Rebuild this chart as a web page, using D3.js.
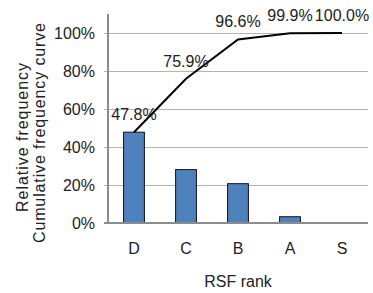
<!DOCTYPE html>
<html>
<head>
<meta charset="utf-8">
<script src="https://cdn.jsdelivr.net/npm/d3@7"></script>
<style>
  body { margin: 0; background: #fff; }
  text { font-family: "Liberation Sans", Arial, sans-serif; fill: #222; }
</style>
</head>
<body>
<div class="chart"></div>
<script>
var ranks      = ["D", "C", "B", "A", "S"];
var relFreq    = [0.478, 0.281, 0.207, 0.033, 0.001];
var cumFreq    = [0.478, 0.759, 0.966, 0.999, 1.000];
var cumLabels  = ["47.8%", "75.9%", "96.6%", "99.9%", "100.0%"];
var yTicks     = [0, 0.2, 0.4, 0.6, 0.8, 1.0];
var yTitles    = ["Relative frequency", "Cumulative frequency curve"];

var width = 373, height = 293;
var plotL = 108, plotR = 368, plotT = 14, plotB = 223;

var svg = d3.select(".chart").append("svg")
    .attr("width", width)
    .attr("height", height);

var x = d3.scaleBand().domain(ranks).range([plotL, plotR]).paddingInner(0.6).paddingOuter(0.3);
var y = d3.scaleLinear().domain([0, 1.1]).range([plotB, plotT]);

// gridlines + y ticks
var yAxis = d3.axisLeft(y)
    .tickValues(yTicks)
    .tickSize(-(plotR - plotL))
    .tickPadding(13)
    .tickFormat(d3.format(".0%"));
var gy = svg.append("g").attr("transform", "translate(" + plotL + ",0)").call(yAxis);
gy.select(".domain").remove();
gy.selectAll(".tick line").attr("stroke", "#b4b4b4").attr("x1", -4);
gy.selectAll(".tick text").style("font-size", "16px").attr("fill", "#222");

// y axis line
svg.append("line")
    .attr("x1", plotL).attr("x2", plotL)
    .attr("y1", plotT).attr("y2", plotB)
    .attr("stroke", "#8c8c8c").attr("stroke-width", 2);

// bars
svg.selectAll(".bar")
    .data(relFreq)
    .enter().append("rect")
    .attr("class", "bar")
    .attr("x", function (d, i) { return x(ranks[i]); })
    .attr("y", function (d) { return y(d); })
    .attr("width", x.bandwidth())
    .attr("height", function (d) { return y(0) - y(d); })
    .attr("fill", "#4f81bd")
    .attr("stroke", "#111")
    .attr("stroke-width", 1);

// x axis line
svg.append("line")
    .attr("x1", plotL - 4).attr("x2", plotR)
    .attr("y1", plotB).attr("y2", plotB)
    .attr("stroke", "#8c8c8c").attr("stroke-width", 2);

// x tick labels
svg.selectAll(".xlab")
    .data(ranks)
    .enter().append("text")
    .attr("x", function (d) { return x(d) + x.bandwidth() / 2; })
    .attr("y", 254)
    .attr("text-anchor", "middle")
    .style("font-size", "16px")
    .text(function (d) { return d; });

// cumulative line
var line = d3.line()
    .x(function (d, i) { return x(ranks[i]) + x.bandwidth() / 2; })
    .y(function (d) { return y(d); });
svg.append("path")
    .datum(cumFreq)
    .attr("d", line)
    .attr("fill", "none")
    .attr("stroke", "#000")
    .attr("stroke-width", 2);

svg.selectAll(".clab")
    .data(cumFreq)
    .enter().append("text")
    .attr("x", function (d, i) { return x(ranks[i]) + x.bandwidth() / 2; })
    .attr("y", function (d) { return y(d) - 12; })
    .attr("text-anchor", "middle")
    .style("font-size", "16px")
    .text(function (d, i) { return cumLabels[i]; });

// axis titles
svg.append("text")
    .attr("x", (plotL + plotR) / 2)
    .attr("y", 287)
    .attr("text-anchor", "middle")
    .style("font-size", "16px")
    .text("RSF rank");

// two-line y title, stretched a little like the original
var titleLen = [149, 220];
var titleX = [28, 44.5];
var titleY = [137.5, 133];
svg.selectAll(".ytitle")
    .data(yTitles)
    .enter().append("text")
    .attr("class", "ytitle")
    .attr("transform", function (d, i) { return "translate(" + titleX[i] + "," + (titleY[i] + titleLen[i] / 2) + ") rotate(-90)"; })
    .attr("x", 0).attr("y", 0)
    .attr("textLength", function (d, i) { return titleLen[i]; })
    .attr("lengthAdjust", "spacing")
    .style("font-size", "16px")
    .text(function (d) { return d; });
</script>
</body>
</html>
